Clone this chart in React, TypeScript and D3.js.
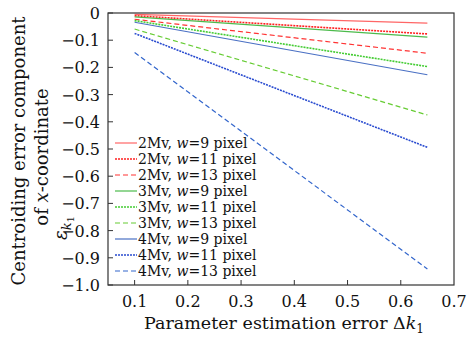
import React from 'react';
import * as d3 from 'd3';

// x positions where each series was read
const xValues = [0.1, 0.65];

const seriesNames = ['2Mv', '2Mv', '2Mv', '3Mv', '3Mv', '3Mv', '4Mv', '4Mv', '4Mv'];
const widths = [9, 11, 13, 9, 11, 13, 9, 11, 13];
const seriesValues = [
  [-0.005, -0.037],
  [-0.01, -0.077],
  [-0.023, -0.148],
  [-0.014, -0.089],
  [-0.028, -0.197],
  [-0.059, -0.375],
  [-0.034, -0.227],
  [-0.075, -0.494],
  [-0.145, -0.941],
];
const colors = ['#f66', '#ff2020', '#f33', '#4cbb4c', '#44cc33', '#66cc33', '#4a70c4', '#2a4cd0', '#3366cc'];
const dashes = ['none', '2,1', '5,3', 'none', '2,1', '5,3', 'none', '2,1', '5,3'];

const xTicks = [0.1, 0.2, 0.3, 0.4, 0.5, 0.6, 0.7];
const yTicks = [0, -0.1, -0.2, -0.3, -0.4, -0.5, -0.6, -0.7, -0.8, -0.9, -1.0];
const yTickLabels = ['0', '−0.1', '−0.2', '−0.3', '−0.4', '−0.5', '−0.6', '−0.7', '−0.8', '−0.9', '−1.0'];

export default function App() {
  const width = 469;
  const height = 339;
  const left = 108, right = 454, top = 13, bottom = 285;
  const font = '"DejaVu Serif", serif';

  const x = d3.scaleLinear().domain([0.05, 0.7]).range([left, right]);
  const y = d3.scaleLinear().domain([-1, 0]).range([bottom, top]);
  const line = d3.line<number>().x((_, i) => x(xValues[i])).y(d => y(d));

  return (
    <svg width={width} height={height} style={{ position: 'absolute', left: 0, top: 0, background: '#fff' }}
      fontFamily={font}>
      {seriesValues.map((vals, i) => (
        <path key={i} d={line(vals) || ''} fill="none" stroke={colors[i]}
          strokeWidth={i % 3 === 1 ? 1.6 : 1.2} strokeDasharray={dashes[i]} />
      ))}

      <rect x={left} y={top} width={right - left} height={bottom - top} fill="none" stroke="#333" strokeWidth={1.2} />

      {xTicks.map(t => (
        <g key={t}>
          {t < 0.7 && <line x1={x(t)} x2={x(t)} y1={bottom} y2={bottom - 5} stroke="#333" />}
          <text x={x(t)} y={bottom + 22} fontSize={16} textAnchor="middle" fill="#111">{t.toFixed(1)}</text>
        </g>
      ))}
      {yTicks.map((t, i) => (
        <g key={t}>
          <line x1={left} x2={left + 5} y1={y(t)} y2={y(t)} stroke="#333" />
          <text x={100} y={y(t) + 6} fontSize={16} textAnchor="end" fill="#111">{yTickLabels[i]}</text>
        </g>
      ))}

      <text x={284} y={329} fontSize={17.5} textAnchor="middle" fill="#111">
        Parameter estimation error Δ<tspan fontStyle="italic">k</tspan>
        <tspan fontSize={12} dy={4}>1</tspan>
      </text>

      <text transform="translate(25,151) rotate(-90)" fontSize={18} textAnchor="middle" fill="#111">
        Centroiding error component
      </text>
      <text transform="translate(48,157) rotate(-90)" fontSize={18} textAnchor="middle" fill="#111">
        of <tspan fontStyle="italic">x</tspan>-coordinate
      </text>
      <text transform="translate(67,228) rotate(-90)" fontSize={18} textAnchor="middle" fill="#111">
        <tspan fontStyle="italic">ε</tspan>
        <tspan fontStyle="italic" fontSize={13} dy={4}>k</tspan>
        <tspan fontSize={10} dy={3}>1</tspan>
      </text>

      {seriesNames.map((name, i) => {
        const ly = 143 + i * 16;
        return (
          <g key={i}>
            <line x1={115} x2={137} y1={ly} y2={ly} stroke={colors[i]}
              strokeWidth={i % 3 === 1 ? 1.6 : 1.2} strokeDasharray={dashes[i]} />
            <text x={138} y={ly + 5} fontSize={14} fill="#111">
              {name}, <tspan fontStyle="italic">w</tspan>={widths[i]} pixel
            </text>
          </g>
        );
      })}
    </svg>
  );
}
